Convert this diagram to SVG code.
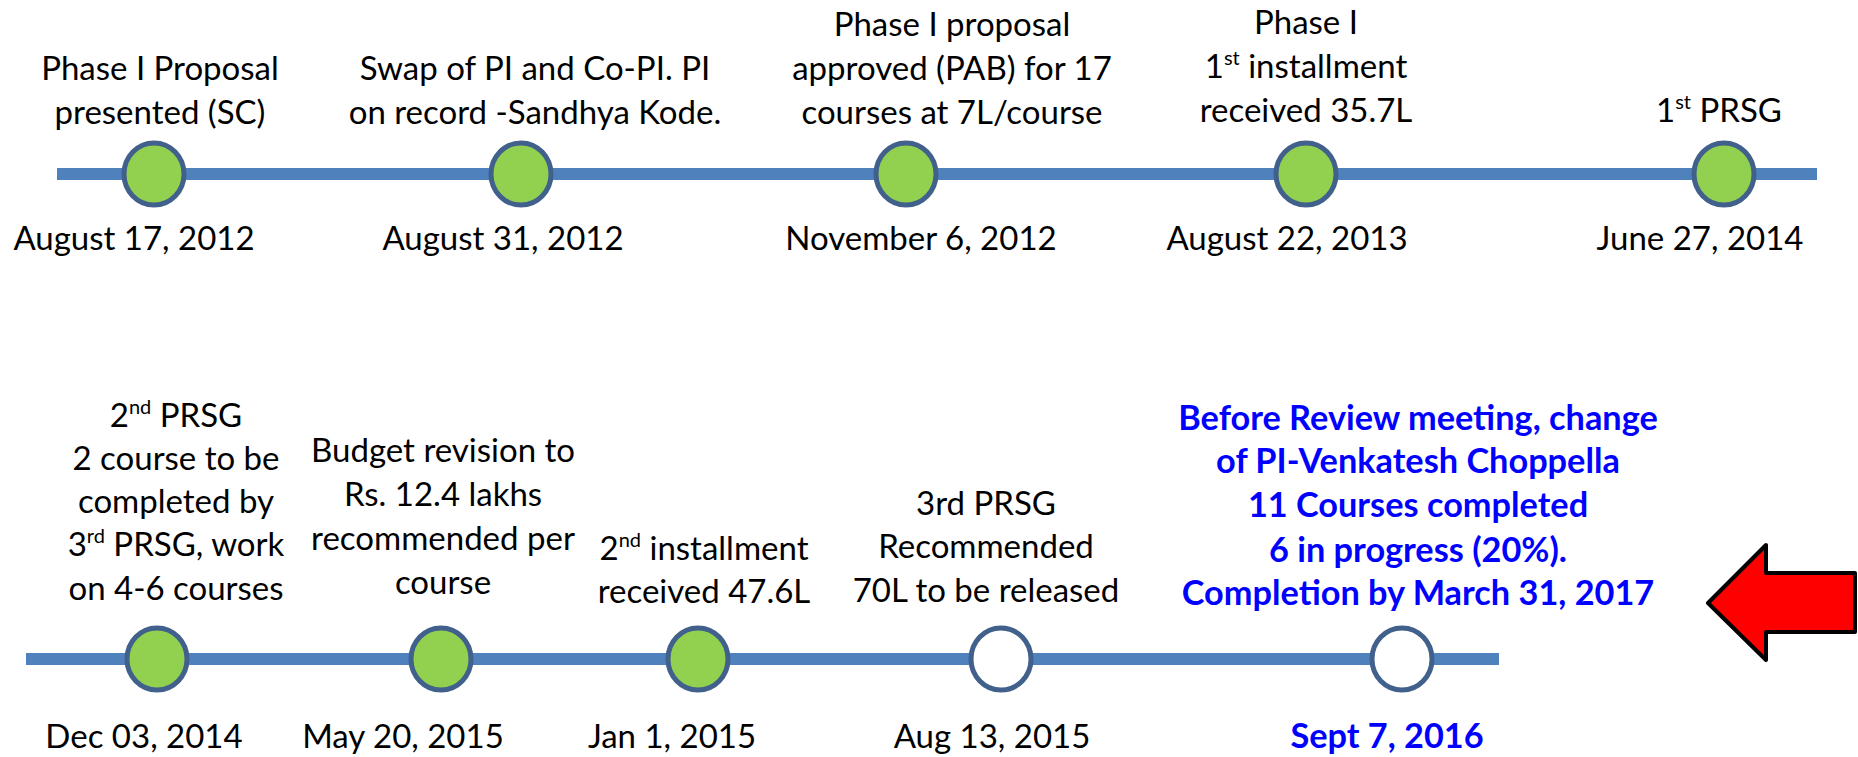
<svg xmlns="http://www.w3.org/2000/svg" width="1858" height="757" viewBox="0 0 1858 757">
<style>
.t{font-family:Lato,"Open Sans","Liberation Sans",sans-serif;font-size:33px;fill:#000;text-anchor:middle}
.b{font-family:Lato,"Open Sans","Liberation Sans",sans-serif;font-size:34.3px;font-weight:bold;fill:#0000FF;text-anchor:middle}
.sup{font-size:20px}
.done{fill:#92D050;stroke:#41618C;stroke-width:5}
.todo{fill:#FFFFFF;stroke:#41618C;stroke-width:5}
.line{stroke:#4F81BD;stroke-width:12;fill:none}
</style>
<rect width="1858" height="757" fill="#FFFFFF"/>
<g id="connectors">
<line class="line" x1="57" y1="174" x2="1817" y2="174"/>
<line class="line" x1="26" y1="659" x2="1499" y2="659"/>
</g>
<g id="n1">
<ellipse class="done" cx="154" cy="174" rx="30" ry="31"/>
<text class="t" x="160" y="80">Phase I Proposal</text>
<text class="t" x="160" y="124">presented (SC)</text>
<text class="t" x="134" y="250">August 17, 2012</text>
</g>
<g id="n2">
<ellipse class="done" cx="521" cy="174" rx="30" ry="31"/>
<text class="t" x="535" y="80">Swap of PI and Co-PI. PI</text>
<text class="t" x="535" y="124">on record -Sandhya Kode.</text>
<text class="t" x="503" y="250">August 31, 2012</text>
</g>
<g id="n3">
<ellipse class="done" cx="906" cy="174" rx="30" ry="31"/>
<text class="t" x="952" y="36">Phase I proposal</text>
<text class="t" x="952" y="80">approved (PAB) for 17</text>
<text class="t" x="952" y="124">courses at 7L/course</text>
<text class="t" x="921" y="250">November 6, 2012</text>
</g>
<g id="n4">
<ellipse class="done" cx="1306" cy="174" rx="30" ry="31"/>
<text class="t" x="1306" y="34">Phase I</text>
<text class="t" x="1306" y="78">1<tspan class="sup" dy="-13">st</tspan><tspan dy="13"> installment</tspan></text>
<text class="t" x="1306" y="122">received 35.7L</text>
<text class="t" x="1287" y="250">August 22, 2013</text>
</g>
<g id="n5">
<ellipse class="done" cx="1724" cy="174" rx="30" ry="31"/>
<text class="t" x="1719" y="122">1<tspan class="sup" dy="-13">st</tspan><tspan dy="13"> PRSG</tspan></text>
<text class="t" x="1700" y="250">June 27, 2014</text>
</g>
<g id="n6">
<ellipse class="done" cx="157" cy="659" rx="30" ry="31"/>
<text class="t" x="176" y="427">2<tspan class="sup" dy="-13">nd</tspan><tspan dy="13"> PRSG</tspan></text>
<text class="t" x="176" y="470">2 course to be</text>
<text class="t" x="176" y="513">completed by</text>
<text class="t" x="176" y="556">3<tspan class="sup" dy="-13">rd</tspan><tspan dy="13"> PRSG, work</tspan></text>
<text class="t" x="176" y="600">on 4-6 courses</text>
<text class="t" x="144" y="748">Dec 03, 2014</text>
</g>
<g id="n7">
<ellipse class="done" cx="441" cy="659" rx="30" ry="31"/>
<text class="t" x="443" y="462">Budget revision to</text>
<text class="t" x="443" y="506">Rs. 12.4 lakhs</text>
<text class="t" x="443" y="550">recommended per</text>
<text class="t" x="443" y="594">course</text>
<text class="t" x="403" y="748">May 20, 2015</text>
</g>
<g id="n8">
<ellipse class="done" cx="698" cy="659" rx="30" ry="31"/>
<text class="t" x="704" y="560">2<tspan class="sup" dy="-13">nd</tspan><tspan dy="13"> installment</tspan></text>
<text class="t" x="704" y="603">received 47.6L</text>
<text class="t" x="672" y="748">Jan 1, 2015</text>
</g>
<g id="n9">
<ellipse class="todo" cx="1001" cy="659" rx="30" ry="31"/>
<text class="t" x="986" y="515">3rd PRSG</text>
<text class="t" x="986" y="558">Recommended</text>
<text class="t" x="986" y="602">70L to be released</text>
<text class="t" x="992" y="748">Aug 13, 2015</text>
</g>
<g id="n10">
<ellipse class="todo" cx="1402" cy="659" rx="30" ry="31"/>
<text class="b" x="1418" y="430">Before Review meeting, change</text>
<text class="b" x="1418" y="473">of PI-Venkatesh Choppella</text>
<text class="b" x="1418" y="517">11 Courses completed</text>
<text class="b" x="1418" y="562">6 in progress (20%).</text>
<text class="b" x="1418" y="605">Completion by March 31, 2017</text>
<text class="b" x="1387" y="748">Sept 7, 2016</text>
</g>
<g id="arrow">
<polygon points="1708,603 1766,545 1766,573 1855,573 1855,632 1766,632 1766,660" fill="#FF0000" stroke="#000000" stroke-width="4" stroke-linejoin="round"/>
</g>
</svg>
